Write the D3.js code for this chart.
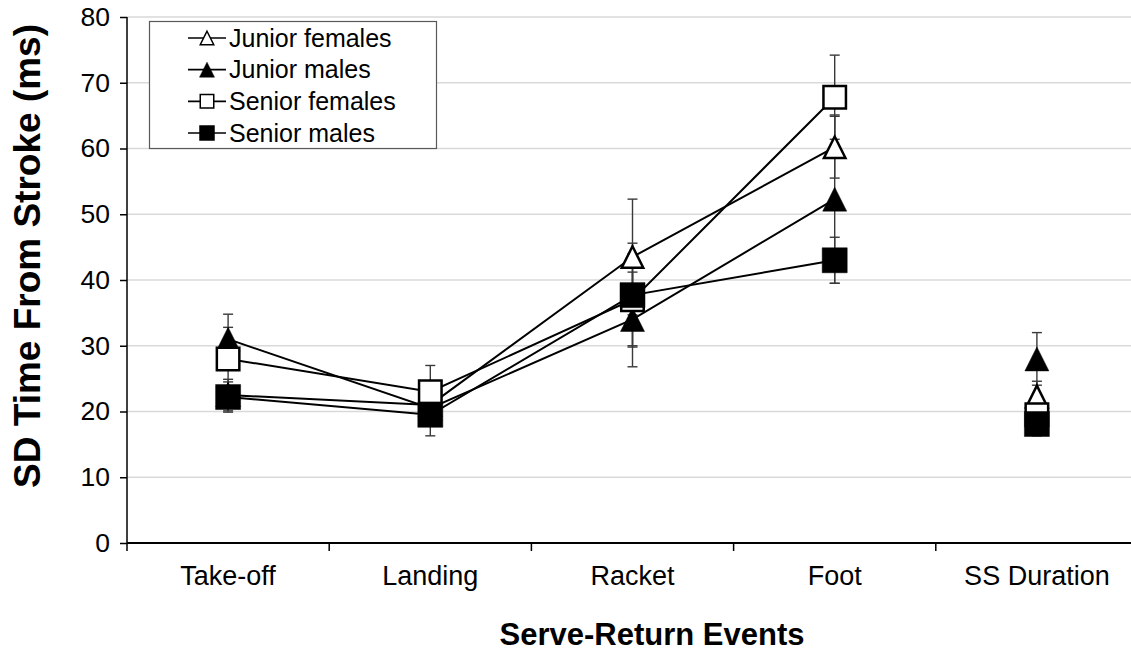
<!DOCTYPE html>
<html>
<head>
<meta charset="utf-8">
<script src="https://cdn.jsdelivr.net/npm/d3@7"></script>
<style>
  html, body { margin: 0; padding: 0; background: #fff; }
  svg { display: block; font-family: "Liberation Sans", Arial, sans-serif; }
</style>
</head>
<body>
<svg id="chart" width="1131" height="654"></svg>
<script>
// Serve-return timing variability by group
const categories = ["Take-off", "Landing", "Racket", "Foot", "SS Duration"];
const connected = ["Take-off", "Landing", "Racket", "Foot"]; // events joined by lines
const yTicks = [0, 10, 20, 30, 40, 50, 60, 70, 80];

const juniorFemales    = [22.5, 21.0, 43.5, 60.2, 22.3];
const juniorFemalesErr = [2.4, 2.0, 8.8, 4.7, 2.3];
const juniorMales      = [31.0, 20.5, 34.0, 52.3, 28.0];
const juniorMalesErr   = [3.8, 2.5, 7.2, 12.8, 4.0];
const seniorFemales    = [28.0, 23.0, 37.0, 67.8, 19.5];
const seniorFemalesErr = [4.8, 4.0, 7.0, 6.4, 2.5];
const seniorMales      = [22.2, 19.5, 37.7, 43.0, 18.1];
const seniorMalesErr   = [2.3, 3.2, 7.9, 3.5, 1.8];

const seriesNames = ["Junior females", "Junior males", "Senior females", "Senior males"];
const seriesShapes = ["triangle", "triangle", "square", "square"];
const seriesFilled = [false, true, false, true];

const series = seriesNames.map((name, i) => ({
  name,
  shape: seriesShapes[i],
  filled: seriesFilled[i],
  values: [juniorFemales, juniorMales, seniorFemales, seniorMales][i],
  errors: [juniorFemalesErr, juniorMalesErr, seniorFemalesErr, seniorMalesErr][i]
}));

const svg = d3.select("#chart");
const plotLeft = 127, plotTop = 17, plotBottom = 543, bandW = 202.2;
const plotRight = plotLeft + bandW * categories.length;

const x = d3.scaleBand().domain(categories).range([plotLeft, plotRight]).padding(0);
const y = d3.scaleLinear().domain([0, 80]).range([plotBottom, plotTop]);
const cx = c => x(c) + x.bandwidth() / 2;

// Gridlines
svg.append("g")
  .selectAll("line")
  .data(yTicks.filter(t => t > 0))
  .join("line")
  .attr("x1", plotLeft).attr("x2", plotRight)
  .attr("y1", d => y(d)).attr("y2", d => y(d))
  .attr("stroke", "#d9d9d9").attr("stroke-width", 1.3);

// Axes
const yAxis = svg.append("g")
  .attr("transform", `translate(${plotLeft},0)`)
  .call(d3.axisLeft(y).tickValues(yTicks).tickSize(7).tickPadding(10).tickFormat(d3.format("d")));
yAxis.select(".domain").remove();
yAxis.selectAll(".tick line").attr("stroke", "#000").attr("stroke-width", 1.5);
yAxis.selectAll(".tick text").attr("font-size", 26.5).attr("fill", "#000")
  .attr("font-family", "'Liberation Sans', Arial, sans-serif");
svg.append("line")
  .attr("x1", plotLeft).attr("x2", plotLeft).attr("y1", plotTop).attr("y2", plotBottom + 8)
  .attr("stroke", "#000").attr("stroke-width", 1.5);

const xAxis = svg.append("g")
  .attr("transform", `translate(0,${plotBottom})`)
  .call(d3.axisBottom(x).tickSize(0).tickPadding(23));
xAxis.select(".domain").remove();
xAxis.selectAll(".tick text").attr("font-size", 27).attr("fill", "#000")
  .attr("font-family", "'Liberation Sans', Arial, sans-serif");
// boundary ticks between categories
svg.append("g")
  .selectAll("line")
  .data(categories)
  .join("line")
  .attr("x1", d => x(d) + x.bandwidth())
  .attr("x2", d => x(d) + x.bandwidth())
  .attr("y1", plotBottom).attr("y2", plotBottom + 8)
  .attr("stroke", "#000").attr("stroke-width", 1.5);
svg.append("line")
  .attr("x1", plotLeft).attr("x2", plotRight).attr("y1", plotBottom).attr("y2", plotBottom)
  .attr("stroke", "#000").attr("stroke-width", 1.8);

// Axis titles
svg.append("text")
  .attr("x", 652).attr("y", 645)
  .attr("text-anchor", "middle")
  .attr("font-size", 31).attr("font-weight", "bold")
  .text("Serve-Return Events");
svg.append("text")
  .attr("transform", "translate(40,256) rotate(-90)")
  .attr("text-anchor", "middle")
  .attr("font-size", 37).attr("font-weight", "bold")
  .text("SD Time From Stroke (ms)");

// Error bars (behind lines and markers)
const capHalf = 5;
const errG = svg.append("g");
series.forEach(s => {
  categories.forEach((c, i) => {
    const v = s.values[i], e = s.errors[i];
    const px = cx(c);
    errG.append("line")
      .attr("x1", px).attr("x2", px)
      .attr("y1", y(v + e)).attr("y2", y(v - e))
      .attr("stroke", "#3a3a3a").attr("stroke-width", 1.4);
    [v + e, v - e].forEach(t => {
      errG.append("line")
        .attr("x1", px - capHalf).attr("x2", px + capHalf)
        .attr("y1", y(t)).attr("y2", y(t))
        .attr("stroke", "#3a3a3a").attr("stroke-width", 1.4);
    });
  });
});

// Connecting lines
const lineGen = d3.line().x(d => cx(d.c)).y(d => y(d.v));
const lineG = svg.append("g");
series.forEach(s => {
  const pts = categories.map((c, i) => ({ c, v: s.values[i] }))
    .filter(d => connected.includes(d.c));
  lineG.append("path")
    .attr("d", lineGen(pts))
    .attr("fill", "none").attr("stroke", "#000").attr("stroke-width", 2);
});

// Marker shapes
function markerPath(shape, size) {
  const h = size / 2;
  if (shape === "triangle") {
    return `M0,${-h}L${h},${h}L${-h},${h}Z`;
  }
  return `M${-h},${-h}H${h}V${h}H${-h}Z`;
}

const markG = svg.append("g");
series.forEach(s => {
  const size = s.shape === "square" ? 25 : 24;
  markG.selectAll(null)
    .data(categories.map((c, i) => ({ c, v: s.values[i] })))
    .join("path")
    .attr("transform", d => `translate(${cx(d.c)},${y(d.v)})`)
    .attr("d", markerPath(s.shape, size - (s.filled ? 0 : 2.5)))
    .attr("fill", s.filled ? "#000" : "#fff")
    .attr("stroke", "#000")
    .attr("stroke-width", s.filled ? 0.5 : 2.5)
    .attr("stroke-linejoin", "miter");
});

// Legend
const lg = svg.append("g");
lg.append("rect")
  .attr("x", 149.5).attr("y", 21.5).attr("width", 287).attr("height", 127)
  .attr("fill", "#fff").attr("stroke", "#595959").attr("stroke-width", 1.2);
const rowY = d3.scalePoint().domain(seriesNames).range([38, 133]);
series.forEach(s => {
  const ry = rowY(s.name);
  lg.append("line")
    .attr("x1", 188).attr("x2", 226).attr("y1", ry).attr("y2", ry)
    .attr("stroke", "#000").attr("stroke-width", 1.6);
  const sz = 15;
  lg.append("path")
    .attr("transform", `translate(207,${ry})`)
    .attr("d", markerPath(s.shape, sz - (s.filled ? 0 : 1.5)))
    .attr("fill", s.filled ? "#000" : "#fff")
    .attr("stroke", "#000").attr("stroke-width", s.filled ? 0.5 : 1.5);
  lg.append("text")
    .attr("x", 229).attr("y", ry).attr("dy", "0.35em")
    .attr("font-size", 25)
    .text(s.name);
});
</script>
</body>
</html>
